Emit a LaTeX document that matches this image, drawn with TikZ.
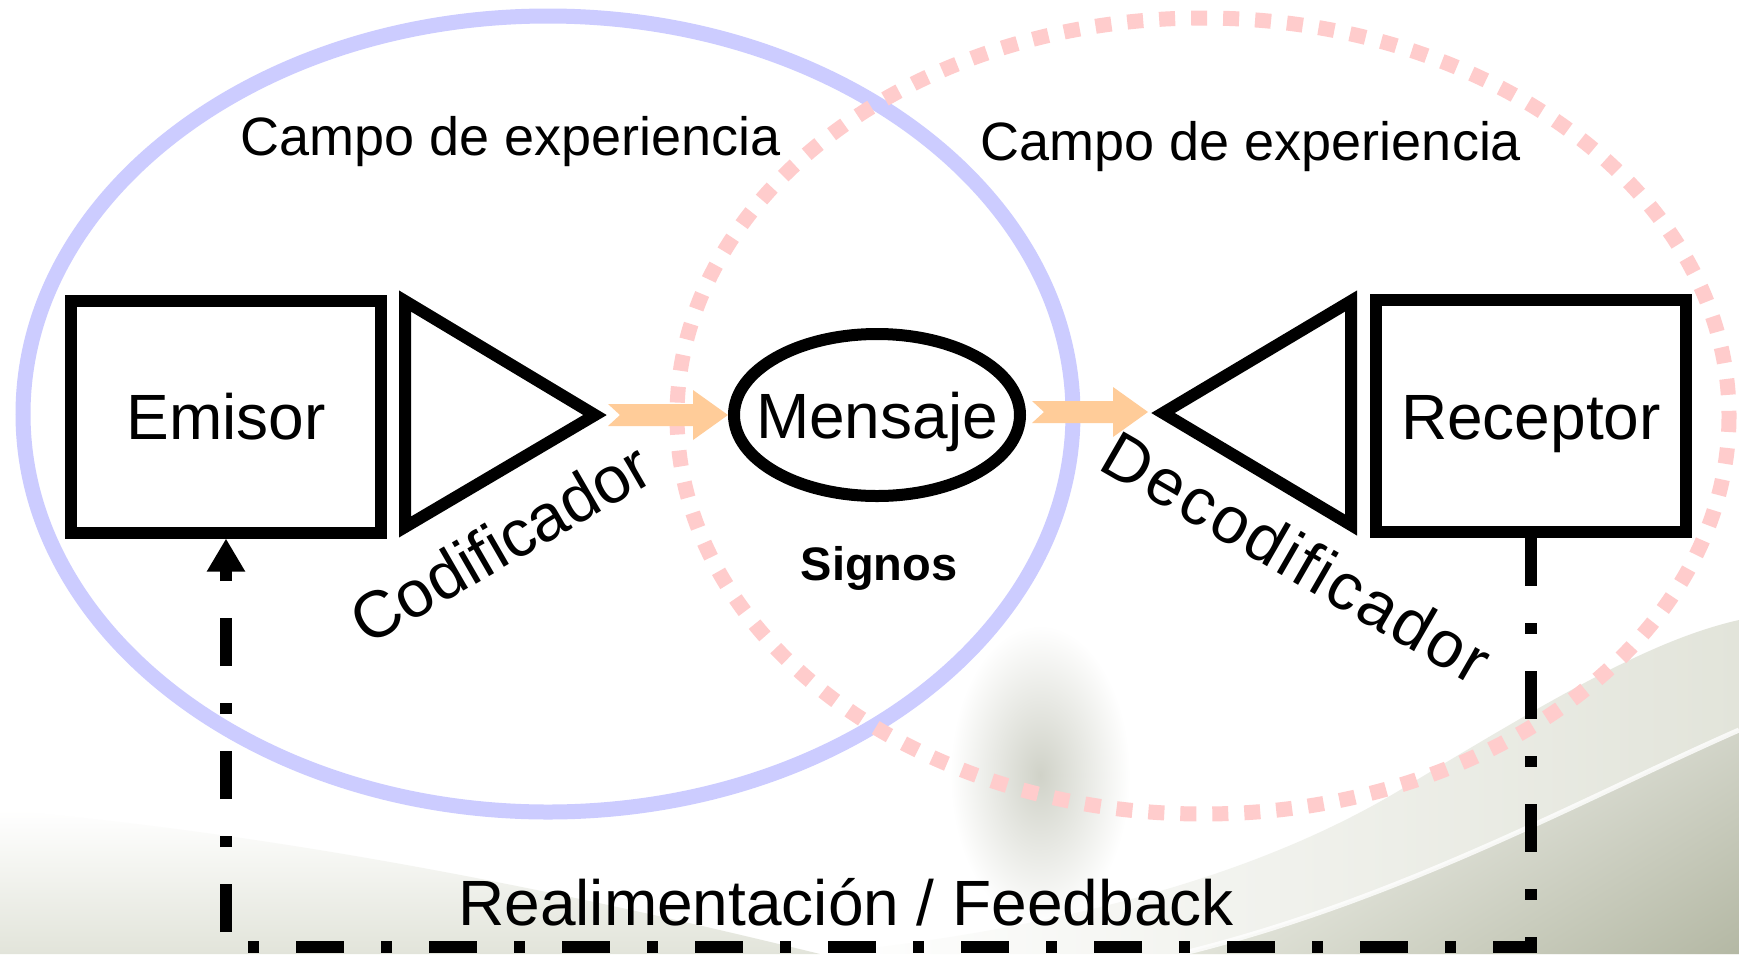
\documentclass[tikz,border=0pt]{standalone}
\usepackage{fontspec}
\setmainfont{Liberation Sans}
\usetikzlibrary{arrows.meta,shapes.geometric,calc,shadings}
\definecolor{fieldA}{RGB}{204,204,255}
\definecolor{fieldB}{RGB}{255,204,204}
\definecolor{flowc}{RGB}{255,204,153}
\definecolor{bgA}{RGB}{226,228,218}
\definecolor{bgB}{RGB}{180,184,164}
\definecolor{foldc}{RGB}{208,210,200}
\newcommand\flowarrow[2]{%
  \fill[flowc] let \p1=(#1), \p2=(#2) in
    (\x1,\y1+11pt) -- (\x2-35pt,\y1+11pt) -- (\x2-35pt,\y1+25pt) -- (\x2,\y1)
    -- (\x2-35pt,\y1-25pt) -- (\x2-35pt,\y1-11pt) -- (\x1,\y1-11pt) -- (\x1+12pt,\y1) -- cycle;}
\begin{document}
\begin{tikzpicture}[x=1pt,y=-1pt,
  box/.style={draw, line width=12pt, minimum width=310pt, minimum height=232pt,
    inner sep=0pt, text height=46pt, text depth=0pt, font=\fontsize{64}{70}\selectfont},
  msgnode/.style={draw, ellipse, line width=12pt, minimum width=286pt, minimum height=162pt,
    inner sep=0pt, text height=46pt, text depth=0pt, font=\fontsize{64}{70}\selectfont},
  tri/.style={draw, line width=12pt, line join=miter},
  fieldlabel/.style={anchor=base, font=\fontsize{54}{60}\selectfont, inner sep=0pt},
  rotlabel/.style={font=\fontsize{66}{72}\selectfont, inner sep=0pt},
  fb/.style={line width=12pt, line join=miter, dash pattern=on 48pt off 37pt on 11pt off 37pt,
    -{Triangle[width=36pt,length=33pt]}}
]
\useasboundingbox (0,0) rectangle (1739,954);
\fill[white] (0,0) rectangle (1739,954);

% background swooshes
\shade[inner color=foldc, outer color=white] (1040,775) ellipse [x radius=90, y radius=150];
\shade[top color=white, bottom color=bgA] (0,810) .. controls (300,835) and (600,900) .. (820,954) -- (0,954) -- cycle;
\shade[upper left=white, upper right=bgA, lower left=white, lower right=bgA]
  (820,954) .. controls (1050,930) and (1250,880) .. (1400,790)
  .. controls (1550,700) and (1650,640) .. (1739,620) -- (1739,954) -- cycle;
\shade[upper left=white, upper right=bgB!60!white, lower left=bgA, lower right=bgB]
  (1180,954) .. controls (1400,900) and (1580,800) .. (1739,730) -- (1739,954) -- cycle;
\draw[white, line width=5pt, opacity=0.8] (1180,954) .. controls (1400,900) and (1580,800) .. (1739,730);

% fields of experience
\draw[fieldA, line width=15pt] (548,414) ellipse [x radius=525, y radius=398];
\draw[fieldB, line width=15pt, dash pattern=on 16pt off 16pt] (1203,416) ellipse [x radius=526, y radius=398];

\node[fieldlabel] (campoL) at (511,155) {Campo de experiencia};
\node[fieldlabel] (campoR) at (1251,160) {Campo de experiencia};

% elements
\node[box] (emi) at (226,416.5) {Emisor};
\node[box] (rec) at (1531,416) {Receptor};
\node[msgnode] (msg) at (877,415) {\makebox[0pt]{Mensaje}};
\node[anchor=base, font=\fontsize{47}{52}\selectfont\bfseries, inner sep=0pt] (sig) at (879,580) {Signos};

\draw[tri] (405,301) -- (595,415) -- (405,527) -- cycle;
\draw[tri] (1351,301) -- (1163,413) -- (1351,525) -- cycle;
\coordinate (codtip) at (608,415);
\coordinate (msgout) at (1032,412);
\coordinate (dectip) at (1148,412);

\node[rotlabel, rotate=30] (cod) at (500,543) {Codificador};
\node[rotlabel, rotate=-30] (dec) at (1297,557) {\addfontfeature{LetterSpace=4}Decodificador};

% message flow
\flowarrow{codtip}{msg.west}
\flowarrow{msgout}{dectip}

% feedback
\coordinate (fbR) at (1531,947);
\coordinate (fbL) at (226,947);
\draw[fb] (rec.south) -- (fbR) -- (fbL) -- (emi.south);
\node[anchor=base, font=\fontsize{64}{70}\selectfont, inner sep=0pt] (fbtext) at (846,925) {Realimentación / Feedback};
\end{tikzpicture}
\end{document}
